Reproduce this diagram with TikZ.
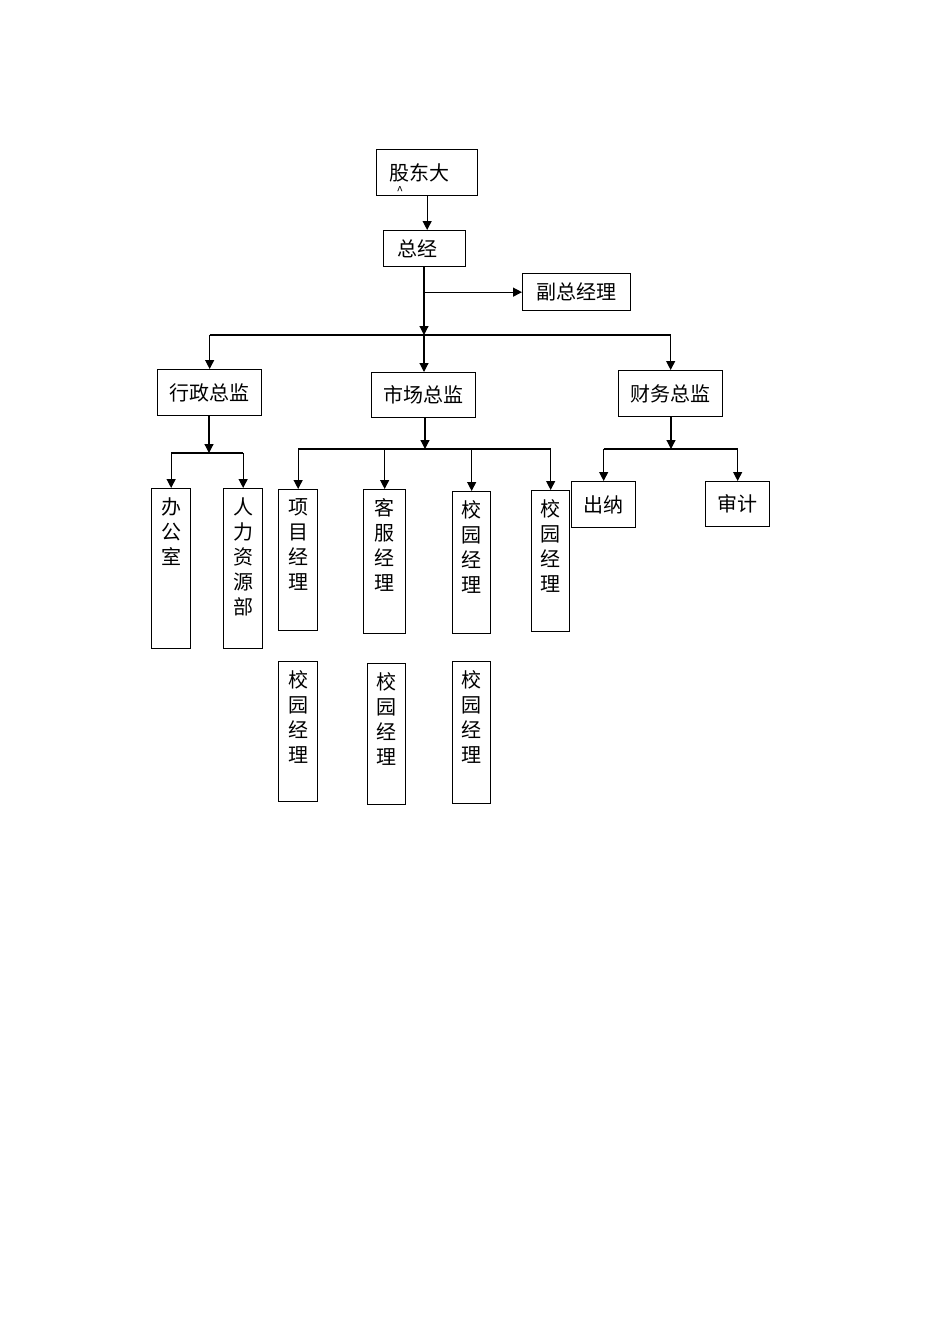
\documentclass[tikz,border=0pt]{standalone}
\usepackage{fontspec}
\newfontfamily\cjk{Noto Sans CJK SC}
\usetikzlibrary{arrows.meta,positioning}
\tikzset{
  hbox/.style={draw,line width=1.3pt,anchor=north west,inner sep=0pt,align=center,font=\cjk\fontsize{20}{25}\selectfont},
  vbox/.style={draw,line width=1.3pt,anchor=north west,inner sep=0pt,font=\cjk\fontsize{20}{25}\selectfont},
  arr/.style={-{Triangle[length=9pt,width=9pt]},line width=1.2pt},
  line/.style={line width=1.2pt},
}
% vertical text, top aligned in a box of given height
\newcommand{\vtxt}[3]{\parbox[t][#1][t]{#2}{\centering\vspace*{9pt}#3}}

\begin{document}
\begin{tikzpicture}[x=1pt,y=-1pt]
  \useasboundingbox (0,0) rectangle (950,1344);

  % top
  \node[hbox,minimum width=101pt,minimum height=46pt,align=left,text width=75pt,inner xsep=13pt] (gd) at (376,149) {\rlap{\smash{\raisebox{-15pt}{\hspace*{7pt}\fontsize{12}{12}\selectfont\^{}}}}股东大};
  \node[hbox,minimum width=82pt,minimum height=36pt,align=left,text width=55pt,inner xsep=13pt] (zj) at (383,230) {总经};
  \node[hbox,minimum width=108pt,minimum height=37pt] (fzjl) at (522,273) {副总经理};

  % directors
  \node[hbox,minimum width=104pt,minimum height=46pt] (xz) at (157,369) {行政总监};
  \node[hbox,minimum width=104pt,minimum height=45pt] (sc) at (371,372) {市场总监};
  \node[hbox,minimum width=104pt,minimum height=46pt] (cw) at (618,370) {财务总监};

  % departments
  \node[vbox,minimum width=39pt] (bgs) at (151,488) {\vtxt{160pt}{39pt}{办\\公\\室}};
  \node[vbox,minimum width=39pt] (rlzy) at (223,488) {\vtxt{160pt}{39pt}{人\\力\\资\\源\\部}};
  \node[vbox,minimum width=39pt] (xmjl) at (278,489) {\vtxt{141pt}{39pt}{项\\目\\经\\理}};
  \node[vbox,minimum width=42pt] (kfjl) at (363,489) {\vtxt{144pt}{42pt}{客\\服\\经\\理}};
  \node[vbox,minimum width=38pt] (xyjla) at (452,491) {\vtxt{142pt}{38pt}{校\\园\\经\\理}};
  \node[vbox,minimum width=38pt] (xyjlb) at (531,490) {\vtxt{141pt}{38pt}{校\\园\\经\\理}};
  \node[vbox,minimum width=39pt] (xyjlc) at (278,661) {\vtxt{140pt}{39pt}{校\\园\\经\\理}};
  \node[vbox,minimum width=38pt] (xyjld) at (367,663) {\vtxt{141pt}{38pt}{校\\园\\经\\理}};
  \node[vbox,minimum width=38pt] (xyjle) at (452,661) {\vtxt{142pt}{38pt}{校\\园\\经\\理}};
  \node[hbox,minimum width=64pt,minimum height=46pt] (cn) at (571,481) {出纳};
  \node[hbox,minimum width=64pt,minimum height=45pt] (sj) at (705,481) {审计};

  % bus points
  \coordinate (bus) at (424,335);
  \coordinate (xzbus) at (209,453);
  \coordinate (scbus) at (425,449);
  \coordinate (cwbus) at (671,449);

  % connectors
  \draw[arr] (gd.south) -- (gd.south |- zj.north);
  \draw[arr] (bus |- zj.south) -- (bus);
  \draw[arr] (bus |- fzjl.west) -- (fzjl.west);
  \draw[line] (xz.north |- bus) -- (cw.north |- bus);
  \draw[arr] (xz.north |- bus) -- (xz.north);
  \draw[arr] (bus) -- (bus |- sc.north);
  \draw[arr] (cw.north |- bus) -- (cw.north);

  \draw[arr] (xzbus |- xz.south) -- (xzbus);
  \draw[line] (bgs.north |- xzbus) -- (rlzy.north |- xzbus);
  \draw[arr] (bgs.north |- xzbus) -- (bgs.north);
  \draw[arr] (rlzy.north |- xzbus) -- (rlzy.north);

  \draw[arr] (scbus |- sc.south) -- (scbus);
  \draw[line] (xmjl.north |- scbus) -- (xyjlb.north |- scbus);
  \foreach \n in {xmjl,kfjl,xyjla,xyjlb}
    \draw[arr] (\n.north |- scbus) -- (\n.north);

  \draw[arr] (cwbus |- cw.south) -- (cwbus);
  \draw[line] (cn.north |- cwbus) -- (sj.north |- cwbus);
  \draw[arr] (cn.north |- cwbus) -- (cn.north);
  \draw[arr] (sj.north |- cwbus) -- (sj.north);
\end{tikzpicture}
\end{document}
